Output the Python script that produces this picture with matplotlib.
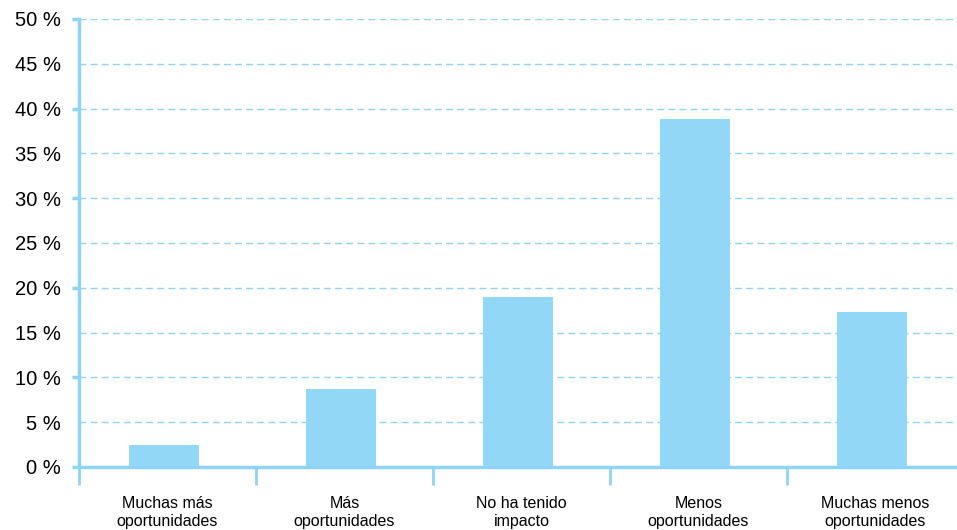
import numpy as np
import matplotlib.pyplot as plt

plt.rcParams['font.family'] = ['Liberation Sans', 'DejaVu Sans']

categories = ['Muchas más\noportunidades', 'Más\noportunidades', 'No ha tenido\nimpacto',
              'Menos\noportunidades', 'Muchas menos\noportunidades']
values = [2.4, 8.7, 19.0, 38.8, 17.3]
y_ticks = list(range(0, 51, 5))

bar_color = '#93d7f6'
line_color = '#8fd4f4'

fig = plt.figure(figsize=(9.57, 5.3), dpi=100)
ax = fig.add_axes([79 / 957, 63 / 530, 885 / 957, 448 / 530])

x = np.arange(len(categories))
ax.bar(x - 0.02, values, width=0.4, color=bar_color, zorder=2)

ax.set_xlim(-0.5, len(categories) - 0.5)
ax.set_ylim(0, 50)

# dashed gridlines
for v in y_ticks[1:]:
    ax.axhline(v, color=line_color, linewidth=1, linestyle=(0, (5, 3)), zorder=1)

ax.set_yticks(y_ticks)
ax.set_yticklabels([f'{v} %' for v in y_ticks], fontsize=14.5)
ax.tick_params(axis='y', length=0, pad=13)
for v in range(0, 51, 10):
    ax.plot([-0.5 - 0.04, -0.5], [v, v], color=line_color, linewidth=2.5,
            clip_on=False, solid_capstyle='butt')

# category boundaries as major ticks, labels as minor ticks
ax.set_xticks(np.arange(-0.5, len(categories), 1.0))
ax.set_xticklabels([])
ax.tick_params(axis='x', which='major', length=13, width=2, color=line_color)
ax.set_xticks(x, minor=True)
ax.set_xticklabels(categories, minor=True, fontsize=11.5, linespacing=1.25)
ax.tick_params(axis='x', which='minor', length=0, pad=21)

for side in ['top', 'right']:
    ax.spines[side].set_visible(False)
for side in ['left', 'bottom']:
    ax.spines[side].set_color(line_color)
    ax.spines[side].set_linewidth(2.5)

fig.savefig('out.png', dpi=100)
